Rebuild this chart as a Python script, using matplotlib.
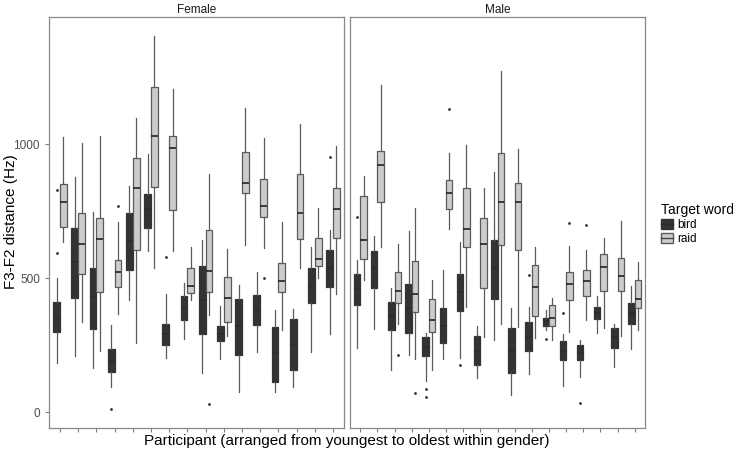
import matplotlib
matplotlib.use("Agg")
import matplotlib.pyplot as plt
from matplotlib.patches import Patch
from matplotlib.lines import Line2D

plt.rcParams["font.family"] = ["Liberation Sans", "DejaVu Sans"]

# (whisker low, q1, median, q3, whisker high) per participant
female_bird = [
    (183, 300, 350, 412, 500), (210, 427, 560, 688, 877), (164, 310, 430, 537, 748),
    (93, 151, 190, 235, 326), (419, 531, 640, 743, 845), (603, 687, 760, 815, 963),
    (202, 250, 290, 330, 442), (272, 345, 390, 434, 484), (146, 292, 420, 546, 643),
    (200, 264, 290, 323, 396), (76, 213, 320, 424, 474), (225, 325, 380, 439, 524),
    (77, 111, 220, 317, 382), (93, 158, 250, 347, 384), (224, 409, 470, 540, 618),
    (292, 467, 540, 607, 680),
]
female_bird_fliers = {0: [596, 830], 3: [11], 6: [578], 15: [953]}

female_raid = [
    (637, 693, 784, 851, 1026), (335, 515, 627, 743, 1004), (230, 449, 646, 723, 1031),
    (366, 468, 522, 567, 709), (258, 606, 836, 949, 1097), (540, 840, 1029, 1215, 1404),
    (603, 753, 985, 1029, 1207), (417, 444, 471, 540, 618), (362, 450, 526, 679, 889),
    (286, 338, 427, 503, 610), (624, 817, 856, 972, 1136), (611, 730, 768, 872, 1023),
    (307, 450, 491, 556, 710), (537, 648, 745, 889, 1075), (499, 544, 573, 651, 763),
    (442, 652, 759, 835, 993),
]
female_raid_fliers = {3: [768], 8: [30], 11: [499]}

male_bird = [
    (239, 399, 460, 515, 569), (311, 464, 540, 602, 658), (158, 305, 360, 412, 465),
    (215, 297, 390, 478, 677), (118, 210, 245, 280, 295), (200, 258, 320, 389, 531),
    (204, 379, 450, 515, 634), (128, 178, 230, 285, 320), (270, 422, 540, 643, 896),
    (65, 148, 230, 316, 388), (142, 230, 280, 336, 391), (307, 322, 340, 352, 382),
    (96, 195, 230, 265, 292), (133, 195, 220, 250, 270), (297, 346, 370, 391, 432),
    (170, 240, 280, 313, 330), (236, 330, 370, 407, 471),
]
male_bird_fliers = {0: [730], 4: [86, 56], 6: [175], 10: [513], 11: [272], 12: [372], 13: [34]}

male_raid = [
    (494, 571, 643, 807, 882), (618, 784, 923, 974, 1223), (330, 407, 453, 524, 627),
    (200, 373, 442, 564, 763), (156, 299, 343, 422, 494), (684, 758, 817, 866, 969),
    (394, 618, 683, 835, 996), (282, 463, 627, 723, 835), (330, 623, 786, 969, 1274),
    (317, 606, 784, 857, 981), (276, 358, 466, 549, 615), (270, 322, 352, 399, 427),
    (301, 417, 478, 524, 622), (345, 432, 491, 530, 606), (313, 454, 541, 590, 649),
    (286, 454, 510, 576, 714), (305, 388, 424, 493, 561),
]
male_raid_fliers = {2: [213], 3: [71], 5: [1133], 12: [705], 13: [698]}

BIRD_FILL = "#333333"
RAID_FILL = "#cccccc"
LINE = "#5a5a5a"


def make_stats(rows, fliers):
    out = []
    for i, (lo, q1, med, q3, hi) in enumerate(rows):
        out.append({"whislo": lo, "q1": q1, "med": med, "q3": q3,
                    "whishi": hi, "fliers": fliers.get(i, [])})
    return out


def draw_panel(ax, bird, bird_fl, raid, raid_fl, title):
    n = len(bird)
    w = 0.375
    for rows, fl, off, fill, edge, medc in [
        (bird, bird_fl, -w / 2, BIRD_FILL, "#333333", "#2b2b2b"),
        (raid, raid_fl, w / 2, RAID_FILL, LINE, "#222222"),
    ]:
        ax.bxp(make_stats(rows, fl), positions=[i + off for i in range(n)],
               widths=w, patch_artist=True, showcaps=False,
               boxprops=dict(facecolor=fill, edgecolor=edge, linewidth=0.9),
               medianprops=dict(color=medc, linewidth=1.2),
               whiskerprops=dict(color=LINE, linewidth=0.9),
               flierprops=dict(marker="o", markersize=1.0, markerfacecolor="#333333",
                               markeredgecolor="#333333"))
    ax.set_xlim(-0.6, n - 0.4)
    ax.set_ylim(-59, 1475)
    ax.set_xticks(range(n))
    ax.set_xticklabels([])
    ax.tick_params(axis="both", length=3, color="#7f7f7f", labelsize=8.5, labelcolor="#4d4d4d")
    for s in ax.spines.values():
        s.set_color("#888888")
        s.set_linewidth(0.9)
    ax.set_title(title, fontsize=8.5, color="#1a1a1a", pad=3)


W, H = 733, 455
fig = plt.figure(figsize=(W / 100, H / 100), dpi=100)
ax1 = fig.add_axes([49 / W, (H - 428) / H, 295 / W, 411 / H])
ax2 = fig.add_axes([350 / W, (H - 428) / H, 295 / W, 411 / H])

draw_panel(ax1, female_bird, female_bird_fliers, female_raid, female_raid_fliers, "Female")
draw_panel(ax2, male_bird, male_bird_fliers, male_raid, male_raid_fliers, "Male")

ax1.set_yticks([0, 500, 1000])
ax2.set_yticks([0, 500, 1000])
ax2.tick_params(axis="y", left=False, labelleft=False)

fig.text(347 / W, 1 - 441 / H, "Participant (arranged from youngest to oldest within gender)",
         ha="center", va="center", fontsize=11)
fig.text(11 / W, 1 - 222 / H, "F3-F2 distance (Hz)", rotation=90,
         ha="center", va="center", fontsize=11)

# legend keys: box glyph with a median line through it
handles = [
    (Patch(facecolor=BIRD_FILL, edgecolor="#333333"), Line2D([], [], color="#2b2b2b", lw=1)),
    (Patch(facecolor=RAID_FILL, edgecolor=LINE), Line2D([], [], color="#444444", lw=1)),
]
fig.legend(handles=handles, labels=["bird", "raid"], title="Target word", loc="upper left",
           bbox_to_anchor=(656 / W, 1 - 198 / H), frameon=False, fontsize=8.5,
           title_fontsize=10, handlelength=1.0, handleheight=0.9, handletextpad=0.4,
           labelspacing=0.2, borderaxespad=0, alignment="left")

fig.savefig("out.png", dpi=100)
